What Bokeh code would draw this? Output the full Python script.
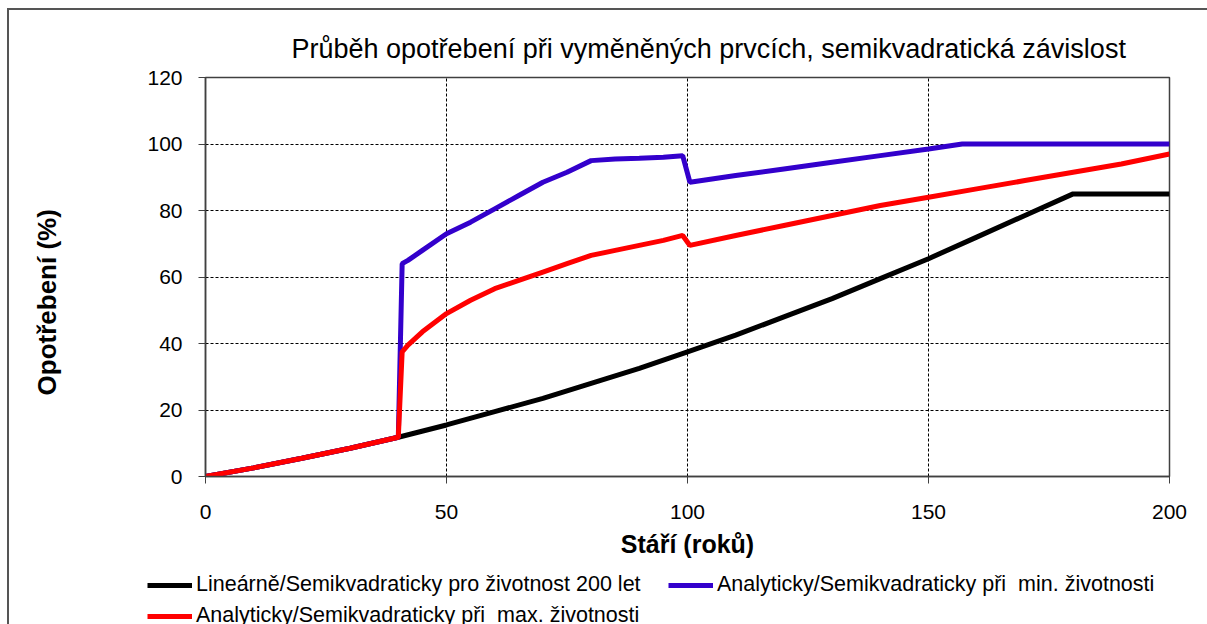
from bokeh.plotting import figure
from bokeh.models import Legend, LegendItem, Range1d, FixedTicker
from bokeh.layouts import column
from bokeh.embed import file_html
from bokeh.resources import INLINE

title_text = "Průběh opotřebení při vyměněných prvcích, semikvadratická závislost"
x_label = "Stáří (roků)"
y_label = "Opotřebení (%)"

series_names = [
    "Lineárně/Semikvadraticky pro životnost 200 let",
    "Analyticky/Semikvadraticky při  min. životnosti",
    "Analyticky/Semikvadraticky při  max. životnosti",
]
series_colors = ["black", "#3300cc", "#ff0000"]

black_x = [0, 10, 20, 30, 40, 50, 60, 70, 80, 90, 100, 110, 120, 130, 140, 150, 160, 170, 180, 190, 200]
black_y = [0, 2.6, 5.5, 8.5, 11.8, 15.5, 19.5, 23.5, 28, 32.5, 37.5, 42.5, 48, 53.5, 59.5, 65.5, 72, 78.5, 85, 85, 85]

blue_x = [0, 10, 20, 30, 40, 40.8, 42, 45, 50, 55, 60, 65, 70, 75, 80, 85, 90, 95, 99, 100.5,
          110, 120, 130, 140, 150, 157, 170, 180, 190, 200]
blue_y = [0, 2.6, 5.5, 8.5, 11.8, 64, 65, 68, 73, 76.5, 80.5, 84.5, 88.5, 91.5, 95, 95.5, 95.7, 96, 96.5, 88.5,
          90.5, 92.5, 94.5, 96.5, 98.5, 100, 100, 100, 100, 100]

red_x = [0, 10, 20, 30, 40, 40.8, 42, 45, 50, 55, 60, 65, 70, 75, 80, 85, 90, 95, 99, 100.5,
         110, 120, 130, 140, 150, 160, 170, 180, 190, 200]
red_y = [0, 2.6, 5.5, 8.5, 11.8, 37.5, 39.5, 43.5, 49, 53, 56.5, 59, 61.5, 64, 66.5, 68, 69.5, 71, 72.5, 69.5,
         72.5, 75.5, 78.5, 81.5, 84, 86.5, 89, 91.5, 94, 97]

series_x = [black_x, blue_x, red_x]
series_y = [black_y, blue_y, red_y]

x_ticks = [0, 50, 100, 150, 200]
y_ticks = [0, 20, 40, 60, 80, 100, 120]

NARROW = "Liberation Sans Narrow, Liberation Sans, Arial Narrow, sans-serif"
SANS = "Liberation Sans, Arial, sans-serif"

p = figure(width=1198, height=558, output_backend="svg", toolbar_location=None,
           x_range=Range1d(0, 200), y_range=Range1d(0, 120),
           min_border_left=196, min_border_right=38, min_border_top=67, min_border_bottom=92,
           frame_width=964, frame_height=399)
p.frame_align = False

p.title.text = title_text
p.title.text_font = NARROW
p.title.text_font_size = "27px"
p.title.text_font_style = "normal"
p.title.text_color = "black"
p.title.align = "left"
p.title.offset = 86
p.title.standoff = 27

p.outline_line_color = "#404040"
p.outline_line_width = 1.5

for ax in (p.xaxis[0], p.yaxis[0]):
    ax.axis_line_color = "#404040"
    ax.axis_line_width = 1.5
    ax.major_tick_line_color = "#404040"
    ax.major_tick_out = 7
    ax.major_tick_in = 0
    ax.minor_tick_line_color = None
    ax.major_label_text_font = SANS
    ax.major_label_text_font_size = "21px"
    ax.major_label_text_color = "black"
    ax.axis_label_text_font = SANS
    ax.axis_label_text_font_style = "bold"
    ax.axis_label_text_color = "black"

p.xaxis.ticker = FixedTicker(ticks=x_ticks)
p.yaxis.ticker = FixedTicker(ticks=y_ticks)
p.xaxis.major_label_standoff = 21
p.yaxis.major_label_standoff = 16

p.xaxis.axis_label = x_label
p.xaxis.axis_label_text_font_size = "25px"
p.xaxis.axis_label_standoff = 8

p.yaxis.axis_label = y_label + "\u00a0" * 7
p.yaxis.axis_label_text_font_size = "26px"
p.yaxis.axis_label_standoff = 82

p.xgrid.ticker = FixedTicker(ticks=x_ticks)
p.ygrid.ticker = FixedTicker(ticks=y_ticks)
p.grid.grid_line_color = "black"
p.grid.grid_line_width = 1
p.grid.grid_line_dash = "3 2"

for xs, ys, c in zip(series_x, series_y, series_colors):
    p.line(xs, ys, line_color=c, line_width=5)

# legend strip below the chart; its swatch renderers hold the same series,
# kept out of this strip's visible range so only the legend shows
pl = figure(width=1198, height=56, output_backend="svg", toolbar_location=None,
            x_range=Range1d(0, 200), y_range=Range1d(-200, -100),
            min_border_left=0, min_border_right=0, min_border_top=0, min_border_bottom=0)
pl.frame_align = False
pl.axis.visible = False
pl.grid.visible = False
pl.outline_line_color = None
sw = [pl.line(xs, ys, line_color=c, line_width=5)
      for xs, ys, c in zip(series_x, series_y, series_colors)]

order = [0, 2, 1]  # column-major fill: black, red in column 1; blue in column 2
legend = Legend(items=[LegendItem(label=series_names[i], renderers=[sw[i]]) for i in order],
                ncols=2, location=(138, -4), padding=0, margin=0, spacing=6,
                glyph_width=45, glyph_height=20, label_height=20, label_width=466,
                label_standoff=4, label_text_font=NARROW, label_text_font_size="21.5px",
                label_text_color="black",
                border_line_alpha=0, background_fill_alpha=0)
pl.add_layout(legend, "center")

layout = column(p, pl, spacing=0,
                styles={"border-left": "2px solid #555555", "border-top": "2px solid #555555",
                        "margin-left": "7px", "margin-top": "8px"})

open("out.html", "w").write(file_html(layout, INLINE))
